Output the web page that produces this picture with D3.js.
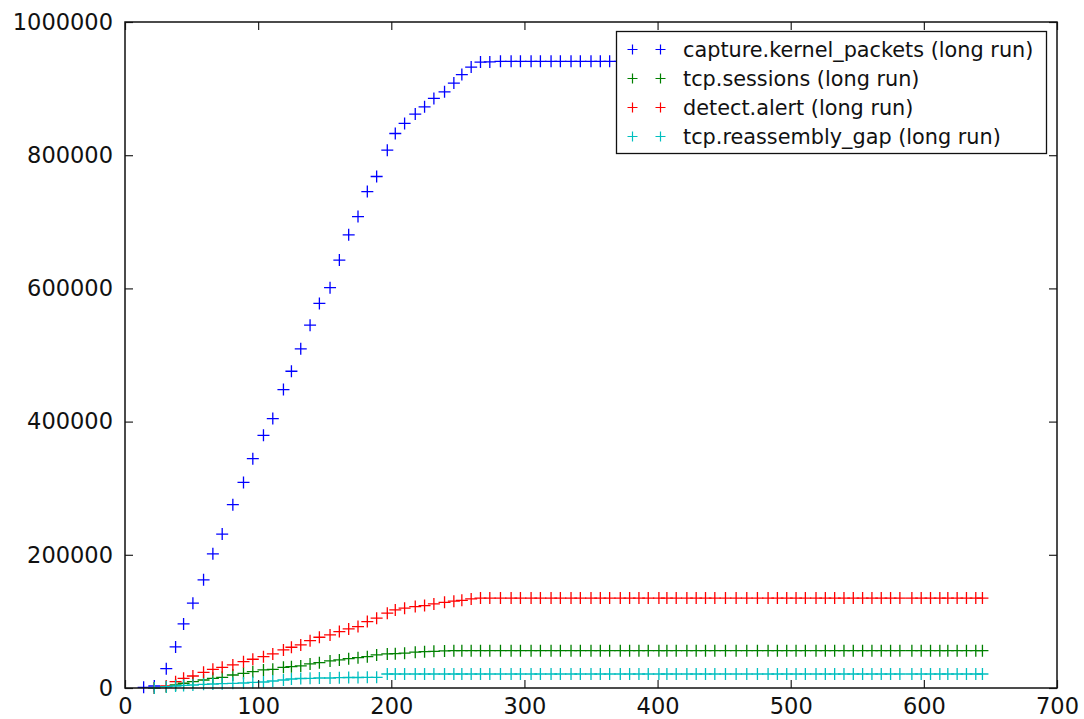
<!DOCTYPE html>
<html>
<head>
<meta charset="utf-8">
<script src="https://cdn.jsdelivr.net/npm/d3@7"></script>
<style>
  body { margin: 0; background: #fff; }
  svg { display: block; font-family: "DejaVu Sans", sans-serif; }
</style>
</head>
<body>
<svg id="chart" width="1084" height="719"></svg>
<script>
// sample times (s), shared by all series
const times = [14, 22, 31, 38, 44, 51, 59, 66, 73, 81, 89, 96, 104, 111, 119, 125, 132, 139, 146, 154,
    161, 168, 175, 182, 189, 197, 203, 210, 218, 225, 232, 240, 247, 253, 260, 267, 274, 282, 290, 297,
    305, 312, 320, 327, 335, 342, 350, 357, 364, 372, 379, 386, 393, 401, 407, 414, 422, 429, 436, 443,
    451, 459, 467, 475, 483, 490, 497, 504, 511, 519, 526, 533, 540, 547, 554, 561, 568, 575, 582, 591,
    598, 605, 612, 618, 625, 632, 639, 644];

const kernelPackets = [1000, 3000, 29000, 61700, 96200, 127400, 162400, 201500, 231100, 275200,
    308700, 344400, 379400, 404500, 448100, 475600, 509300, 544800, 577400, 601100,
    642600, 680500, 707800, 745400, 768000, 807500, 832600, 847700, 861700, 872600,
    885300, 895200, 908300, 921000, 932300, 939800, 940000, 941000, 941000, 941000,
    941000, 941000, 941000, 941000, 941000, 941000, 941000, 941000, 941000, 941000,
    941000, 941000, 941000, 941000, 941000, 941000, 941000, 941000, 941000, 941000,
    941000, 941000, 941000, 941000, 941000, 941000, 941000, 941000, 941000, 941000,
    941000, 941000, 941000, 941000, 941000, 941000, 941000, 941000, 941000, 941000,
    941000, 941000, 941000, 941000, 941000, 941000, 941000, 941000];

const tcpSessions = [null, 0, 2000, 4500, 7100, 9500, 12000, 14600, 16100, 19500,
    22100, 24500, 27100, 28100, 31100, 32000, 33100, 36100, 38000, 40600,
    42100, 44100, 45600, 47100, 49600, 51100, 51600, 52300, 53800, 54600,
    55100, 55600, 56000, 56100, 56100, 56100, 56100, 56100, 56100, 56100,
    56100, 56100, 56100, 56100, 56100, 56100, 56100, 56100, 56100, 56100,
    56100, 56100, 56100, 56100, 56100, 56100, 56100, 56100, 56100, 56100,
    56100, 56100, 56100, 56100, 56100, 56100, 56100, 56100, 56100, 56100,
    56100, 56100, 56100, 56100, 56100, 56100, 56100, 56100, 56100, 56100,
    56100, 56100, 56100, 56100, 56100, 56100, 56100, 56100];

const detectAlert = [null, 0, 3000, 9500, 14600, 18000, 23600, 28100, 31100, 34600,
    39500, 43200, 47100, 51100, 57100, 61200, 64700, 71100, 76200, 79700,
    84700, 88700, 92200, 99700, 104800, 112300, 117300, 119800, 122300, 123800,
    126300, 128600, 130400, 131600, 133800, 135000, 135000, 135000, 135000, 135000,
    135000, 135000, 135000, 135000, 135000, 135000, 135000, 135000, 135000, 135000,
    135000, 135000, 135000, 135000, 135000, 135000, 135000, 135000, 135000, 135000,
    135000, 135000, 135000, 135000, 135000, 135000, 135000, 135000, 135000, 135000,
    135000, 135000, 135000, 135000, 135000, 135000, 135000, 135000, 135000, 135000,
    135000, 135000, 135000, 135000, 135000, 135000, 135000, 135000];

const reassemblyGap = [null, 0, 2000, 3000, 3800, 4500, 5500, 6000, 6500, 7000,
    7500, 8300, 9000, 10500, 12000, 13500, 14300, 14600, 15000, 15000,
    15500, 15800, 15800, 16100, 16100, 21000, 21000, 21000, 21000, 21000,
    21000, 21000, 21000, 21000, 21000, 21000, 21000, 21000, 21000, 21000,
    21000, 21000, 21000, 21000, 21000, 21000, 21000, 21000, 21000, 21000,
    21000, 21000, 21000, 21000, 21000, 21000, 21000, 21000, 21000, 21000,
    21000, 21000, 21000, 21000, 21000, 21000, 21000, 21000, 21000, 21000,
    21000, 21000, 21000, 21000, 21000, 21000, 21000, 21000, 21000, 21000,
    21000, 21000, 21000, 21000, 21000, 21000, 21000, 21000];

const seriesNames = ["capture.kernel_packets (long run)", "tcp.sessions (long run)",
    "detect.alert (long run)", "tcp.reassembly_gap (long run)"];
const seriesColors = ["#0000ff", "#008000", "#ff0000", "#00bfbf"];
const seriesValues = [kernelPackets, tcpSessions, detectAlert, reassemblyGap];

const xTicks = [0, 100, 200, 300, 400, 500, 600, 700];
const yTicks = [0, 200000, 400000, 600000, 800000, 1000000];

const svg = d3.select("#chart");
const margin = { left: 125, right: 1057, top: 22, bottom: 688 };

const x = d3.scaleLinear().domain([0, 700]).range([margin.left, margin.right]);
const y = d3.scaleLinear().domain([0, 1000000]).range([margin.bottom, margin.top]);

// plus marker path
function plus(size) {
    const h = size / 2;
    return `M${-h},0H${h}M0,${-h}V${h}`;
}

// markers
const plot = svg.append("g");
seriesValues.forEach((vals, i) => {
    const pts = times.map((t, j) => ({ t: t, v: vals[j] })).filter((d) => d.v !== null);
    plot.append("g")
        .selectAll("path")
        .data(pts)
        .join("path")
        .attr("transform", (d) => `translate(${x(d.t)},${y(d.v)})`)
        .attr("d", plus(12))
        .attr("stroke", seriesColors[i])
        .attr("stroke-width", 1.3)
        .attr("fill", "none");
});

// axes with inward ticks
const fontSize = 22.5;
const tickColor = "#222";

const xAxis = svg.append("g")
    .attr("transform", `translate(0,${margin.bottom})`)
    .call(d3.axisBottom(x).tickValues(xTicks).tickFormat(d3.format("d"))
        .tickSizeInner(-8).tickSizeOuter(0).tickPadding(10));
const xTop = svg.append("g")
    .attr("transform", `translate(0,${margin.top})`)
    .call(d3.axisTop(x).tickValues(xTicks).tickFormat("").tickSizeInner(-8).tickSizeOuter(0));
const yAxis = svg.append("g")
    .attr("transform", `translate(${margin.left},0)`)
    .call(d3.axisLeft(y).tickValues(yTicks).tickFormat(d3.format("d"))
        .tickSizeInner(-8).tickSizeOuter(0).tickPadding(12));
const yRight = svg.append("g")
    .attr("transform", `translate(${margin.right},0)`)
    .call(d3.axisRight(y).tickValues(yTicks).tickFormat("").tickSizeInner(-8).tickSizeOuter(0));

[xAxis, xTop, yAxis, yRight].forEach((g) => {
    g.select(".domain").remove();
    g.selectAll(".tick line").attr("stroke", tickColor).attr("stroke-width", 1.2);
    g.selectAll(".tick text")
        .attr("fill", "#111")
        .style("font-size", fontSize + "px")
        .style("font-family", "DejaVu Sans");
});

// frame
svg.append("rect")
    .attr("x", margin.left)
    .attr("y", margin.top)
    .attr("width", margin.right - margin.left)
    .attr("height", margin.bottom - margin.top)
    .attr("fill", "none")
    .attr("stroke", "#111")
    .attr("stroke-width", 1.5);

// legend
const legend = svg.append("g");
legend.append("rect")
    .attr("x", 616.5)
    .attr("y", 31.5)
    .attr("width", 430)
    .attr("height", 122)
    .attr("fill", "#fff")
    .attr("stroke", "#111")
    .attr("stroke-width", 1.3);

seriesNames.forEach((name, i) => {
    const ly = 49.5 + i * 29;
    [632.5, 660.5].forEach((mx) => {
        legend.append("path")
            .attr("transform", `translate(${mx},${ly})`)
            .attr("d", plus(10))
            .attr("stroke", seriesColors[i])
            .attr("stroke-width", 1.2)
            .attr("fill", "none");
    });
    legend.append("text")
        .attr("x", 683)
        .attr("y", ly)
        .attr("dy", "0.36em")
        .attr("fill", "#111")
        .style("font-size", "20.8px")
        .text(name);
});
</script>
</body>
</html>
